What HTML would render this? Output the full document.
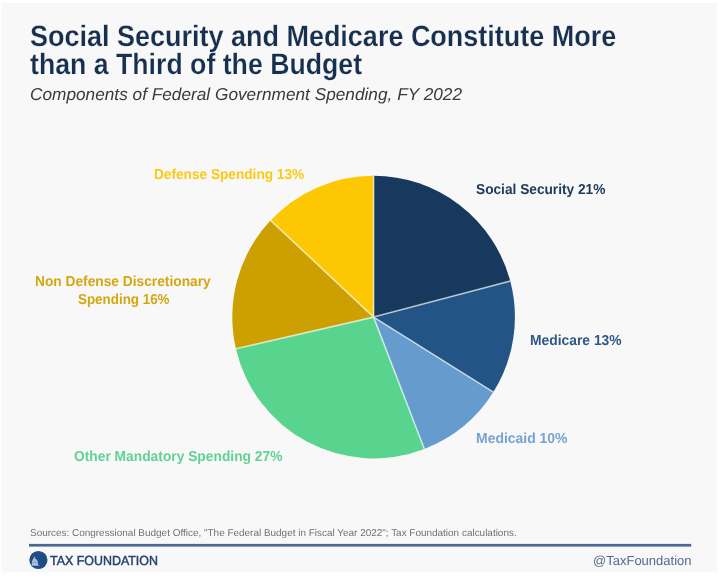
<!DOCTYPE html>
<html><head><meta charset="utf-8">
<style>
html,body{margin:0;padding:0;background:#fff;}
body{width:720px;height:576px;position:relative;overflow:hidden;font-family:"Liberation Sans",sans-serif;}
.t{position:absolute;white-space:nowrap;line-height:1;transform-origin:0 0;text-rendering:geometricPrecision;}
svg{position:absolute;left:0;top:0;}
#title1{left:29.57px;top:22.03px;font-size:29.5px;color:#17304f;font-weight:bold;-webkit-text-stroke:0.2px #f8f8f8;transform:scaleX(0.9146);}
#title2{left:30.13px;top:50.03px;font-size:29.5px;color:#17304f;font-weight:bold;-webkit-text-stroke:0.2px #f8f8f8;transform:scaleX(0.9046);}
#sub{left:29.87px;top:85.94px;font-size:17.2px;color:#3a3a3a;font-style:italic;transform:scaleX(1.0033);}
#l1{left:154.05px;top:168.01px;font-size:14.4px;color:#fbc916;font-weight:bold;transform:scaleX(0.9484);}
#l2{left:475.78px;top:182.81px;font-size:14.4px;color:#213b5d;font-weight:bold;transform:scaleX(0.9514);}
#l3{left:35.22px;top:275.01px;font-size:14.4px;color:#d3a710;font-weight:bold;transform:scaleX(0.9551);}
#l4{left:78.24px;top:293.21px;font-size:14.4px;color:#d3a710;font-weight:bold;transform:scaleX(0.9304);}
#l5{left:530.33px;top:333.81px;font-size:14.4px;color:#305885;font-weight:bold;transform:scaleX(0.9625);}
#l6{left:476.33px;top:432.11px;font-size:14.4px;color:#78a2d1;font-weight:bold;transform:scaleX(0.9698);}
#l7{left:74.17px;top:450.21px;font-size:14.4px;color:#62d196;font-weight:bold;transform:scaleX(0.9583);}
#src{left:30.43px;top:528.62px;font-size:9.9px;color:#707070;transform:scaleX(1.0073);}
#brand{left:50.44px;top:553.63px;font-size:13.2px;color:#24426e;-webkit-text-stroke:0.45px #24426e;transform:scaleX(0.9424);}
#handle{left:592.82px;top:553.73px;font-size:13.2px;color:#566b8e;transform:scaleX(0.9862);}
</style></head><body>
<svg width="720" height="576" viewBox="0 0 720 576">
<rect x="1.5" y="3" width="715.4" height="569.6" fill="#f8f8f8"/>
<g>
<path d="M373.6 317.1L373.60 175.80A141.3 141.3 0 0 1 510.24 281.10Z" fill="#17395d"/>
<path d="M373.6 317.1L510.24 281.10A141.3 141.3 0 0 1 493.38 392.06Z" fill="#225485"/>
<path d="M373.6 317.1L493.38 392.06A141.3 141.3 0 0 1 424.38 448.96Z" fill="#669bce"/>
<path d="M373.6 317.1L424.38 448.96A141.3 141.3 0 0 1 235.90 348.79Z" fill="#58d48f"/>
<path d="M373.6 317.1L235.90 348.79A141.3 141.3 0 0 1 270.60 220.37Z" fill="#cba000"/>
<path d="M373.6 317.1L270.60 220.37A141.3 141.3 0 0 1 373.60 175.80Z" fill="#fec703"/>
<path d="M373.6 317.1L373.60 175.80M373.6 317.1L510.24 281.10M373.6 317.1L493.38 392.06M373.6 317.1L424.38 448.96M373.6 317.1L235.90 348.79M373.6 317.1L270.60 220.37" fill="none" stroke="#ffffff" stroke-opacity="0.62" stroke-width="1.6"/>
</g>
<rect x="29" y="543.9" width="662.2" height="2.7" fill="#4b6793"/>
<circle cx="38.4" cy="560" r="9.1" fill="#1f4c84"/>
<path d="M34.3 556L35.2 558.6C37 559.3 37.8 561 38 563L38.3 564.9L39.8 565.8L31.8 565.8L31.9 563C32 561 32.6 559.3 33.5 558.6Z" fill="#c4d8ee" fill-opacity="0.82"/>
<path d="M32 562.6H38" stroke="#7f9fc8" stroke-width="0.7"/>
</svg>
<div class="t" id="title1">Social Security and Medicare Constitute More</div>
<div class="t" id="title2">than a Third of the Budget</div>
<div class="t" id="sub">Components of Federal Government Spending, FY 2022</div>
<div class="t" id="l1">Defense Spending 13%</div>
<div class="t" id="l2">Social Security 21%</div>
<div class="t" id="l3">Non Defense Discretionary</div>
<div class="t" id="l4">Spending 16%</div>
<div class="t" id="l5">Medicare 13%</div>
<div class="t" id="l6">Medicaid 10%</div>
<div class="t" id="l7">Other Mandatory Spending 27%</div>
<div class="t" id="src">Sources: Congressional Budget Office, "The Federal Budget in Fiscal Year 2022"; Tax Foundation calculations.</div>
<div class="t" id="brand">TAX FOUNDATION</div>
<div class="t" id="handle">@TaxFoundation</div>
</body></html>
